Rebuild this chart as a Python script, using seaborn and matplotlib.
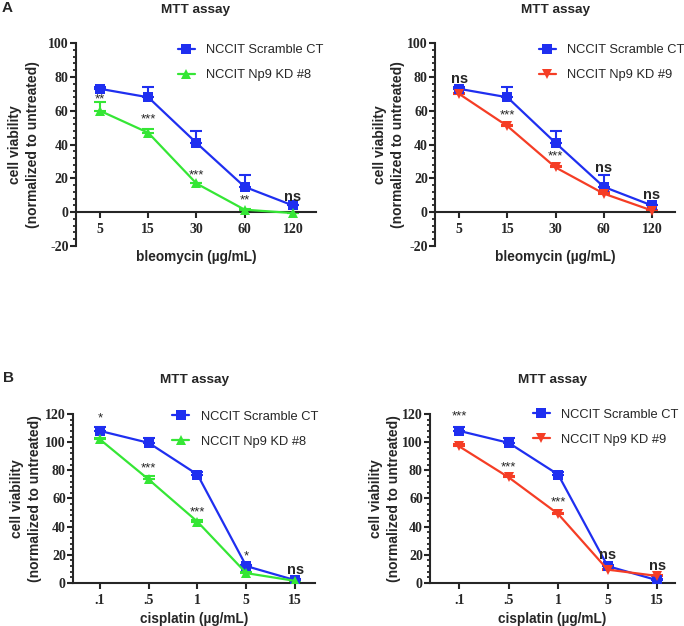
import numpy as np
import pandas as pd
import matplotlib
matplotlib.use("Agg")
import matplotlib.pyplot as plt
import seaborn as sns
from matplotlib.ticker import AutoMinorLocator

# --- DATOS ---
bleo_doses = ["5", "15", "30", "60", "120"]
cis_doses = [".1", ".5", "1", "5", "15"]

bleo_scr = [73, 68, 41, 15, 4]
bleo_scr_err = [0.8, 6, 7, 7, 0.5]
bleo_kd8 = [60, 47, 17, 1.5, -0.5]
bleo_kd8_err = [5.5, 2, 0.5, 0.5, 0.3]
bleo_kd9 = [70, 51, 26.5, 11, 1]
bleo_kd9_err = [0.5, 0.8, 1, 0.8, 0.3]

cis_scr = [108, 99.5, 77, 12, 2]
cis_scr_err = [3, 3.5, 2, 1, 0.5]
cis_kd8 = [102, 73.5, 43.5, 7, 1.5]
cis_kd8_err = [1.2, 2.5, 1, 0.5, 0.3]
cis_kd9 = [97, 75, 49, 9.5, 5]
cis_kd9_err = [1.5, 1, 0.8, 0.5, 1]

# marcas de significancia (texto, posición y)
sig_a8 = [("**", 66.5), ("***", 55), ("***", 22), ("**", 7), ("ns", 9)]
sig_a9 = [("ns", 79), ("***", 57), ("***", 33), ("ns", 26), ("ns", 10)]
sig_b8 = [("*", 117), ("***", 81), ("***", 50), ("*", 19), ("ns", 9)]
sig_b9 = [("***", 118), ("***", 82), ("***", 57), ("ns", 20), ("ns", 12)]

BLUE = "#1f2ff0"
GREEN = "#35e635"
RED = "#f53d25"

sns.set_style("ticks")
plt.rcParams.update({
    "font.family": ["Liberation Sans", "DejaVu Sans"],
    "axes.linewidth": 1.5,
    "axes.unicode_minus": False,
})

fig = plt.figure(figsize=(6.84, 6.26), dpi=100)

def panel(rect, doses, scr, scr_err, kd, kd_err, kd_name, kd_color, kd_marker,
          sig, ylim, xlabel, xlim, ylab_x, legend_xy):
    ax = fig.add_axes(rect)
    x = np.arange(len(doses))
    df = pd.DataFrame({
        "x": np.concatenate([x, x]),
        "y": scr + kd,
        "grupo": ["NCCIT Scramble CT"] * len(x) + [kd_name] * len(x),
    })
    # barras de error (solo hacia arriba)
    ax.errorbar(x, kd, yerr=[np.zeros(len(x)), kd_err], fmt="none",
                ecolor=kd_color, elinewidth=1.5, capsize=4, capthick=1.5, zorder=2)
    ax.errorbar(x, scr, yerr=[np.zeros(len(x)), scr_err], fmt="none",
                ecolor=BLUE, elinewidth=1.5, capsize=4, capthick=1.5, zorder=3)
    sns.lineplot(data=df, x="x", y="y", hue="grupo", style="grupo",
                 palette={"NCCIT Scramble CT": BLUE, kd_name: kd_color},
                 markers={"NCCIT Scramble CT": "s", kd_name: kd_marker},
                 dashes=False, markersize=6.5, markeredgewidth=0, linewidth=1.6,
                 hue_order=["NCCIT Scramble CT", kd_name], ax=ax, zorder=3)
    ax.set_xlim(*xlim)
    ax.set_ylim(*ylim)
    ax.set_xticks(x)
    ax.set_xticklabels(doses)
    ax.set_yticks(np.arange(ylim[0], ylim[1] + 1, 20))
    ax.yaxis.set_minor_locator(AutoMinorLocator(5))
    for s in ["top", "right"]:
        ax.spines[s].set_visible(False)
    ax.spines["bottom"].set_position(("data", 0))
    ax.tick_params(axis="both", which="major", length=4, width=1.5, pad=1.2,
                   labelsize=10)
    ax.tick_params(axis="x", which="major", pad=4)
    ax.tick_params(axis="y", which="minor", length=2.5, width=1.3)
    for lab in ax.get_xticklabels() + ax.get_yticklabels():
        lab.set_fontfamily("Liberation Serif")
        lab.set_fontweight("bold")
    ax.set_xlabel(xlabel, fontsize=9.8, fontweight="bold")
    ax.set_ylabel("cell viability\n(normalized to untreated)", fontsize=10,
                  fontweight="bold", linespacing=1.35)
    ax.yaxis.set_label_coords(ylab_x, 0.5)
    ax.set_title("MTT assay", fontsize=9.7, fontweight="bold", pad=22)
    for i, (t, yv) in enumerate(sig):
        if t == "ns":
            ax.text(x[i], yv, t, ha="center", va="center", fontsize=10.5,
                    fontweight="bold", zorder=5)
        else:
            ax.text(x[i], yv, t, ha="center", va="center", fontsize=9.5,
                    zorder=5)
    ax.legend(loc="upper left", bbox_to_anchor=legend_xy, frameon=False,
              fontsize=9.3, handlelength=1.3, handletextpad=0.9,
              labelspacing=1.0, borderpad=0, borderaxespad=0)
    return ax

axA1 = panel([0.111, 0.607, 0.351, 0.324], bleo_doses, bleo_scr, bleo_scr_err,
             bleo_kd8, bleo_kd8_err, "NCCIT Np9 KD #8", GREEN, "^", sig_a8,
             (-20, 100), "bleomycin (µg/mL)", (-0.5, 4.48), -0.15, (0.425, 0.995))
axA1.xaxis.set_label_coords(0.5, -0.02)
axA2 = panel([0.636, 0.607, 0.351, 0.324], bleo_doses, bleo_scr, bleo_scr_err,
             bleo_kd9, bleo_kd9_err, "NCCIT Np9 KD #9", RED, "v", sig_a9,
             (-20, 100), "bleomycin (µg/mL)", (-0.5, 4.48), -0.125, (0.433, 0.995))
axA2.xaxis.set_label_coords(0.5, -0.02)
axB1 = panel([0.1067, 0.0687, 0.354, 0.27], cis_doses, cis_scr, cis_scr_err,
             cis_kd8, cis_kd8_err, "NCCIT Np9 KD #8", GREEN, "^", sig_b8,
             (0, 120), "cisplatin (µg/mL)", (-0.55, 4.41), -0.128, (0.41, 1.02))
axB1.xaxis.set_label_coords(0.5, -0.17)
axB2 = panel([0.6287, 0.0687, 0.358, 0.27], cis_doses, cis_scr, cis_scr_err,
             cis_kd9, cis_kd9_err, "NCCIT Np9 KD #9", RED, "v", sig_b9,
             (0, 120), "cisplatin (µg/mL)", (-0.59, 4.36), -0.12, (0.42, 1.03))
axB2.xaxis.set_label_coords(0.5, -0.17)

fig.text(0.002, 0.987, "A", fontsize=11, fontweight="bold", va="center")
fig.text(0.005, 0.396, "B", fontsize=11, fontweight="bold", va="center")

fig.savefig("out.png", dpi=100)
